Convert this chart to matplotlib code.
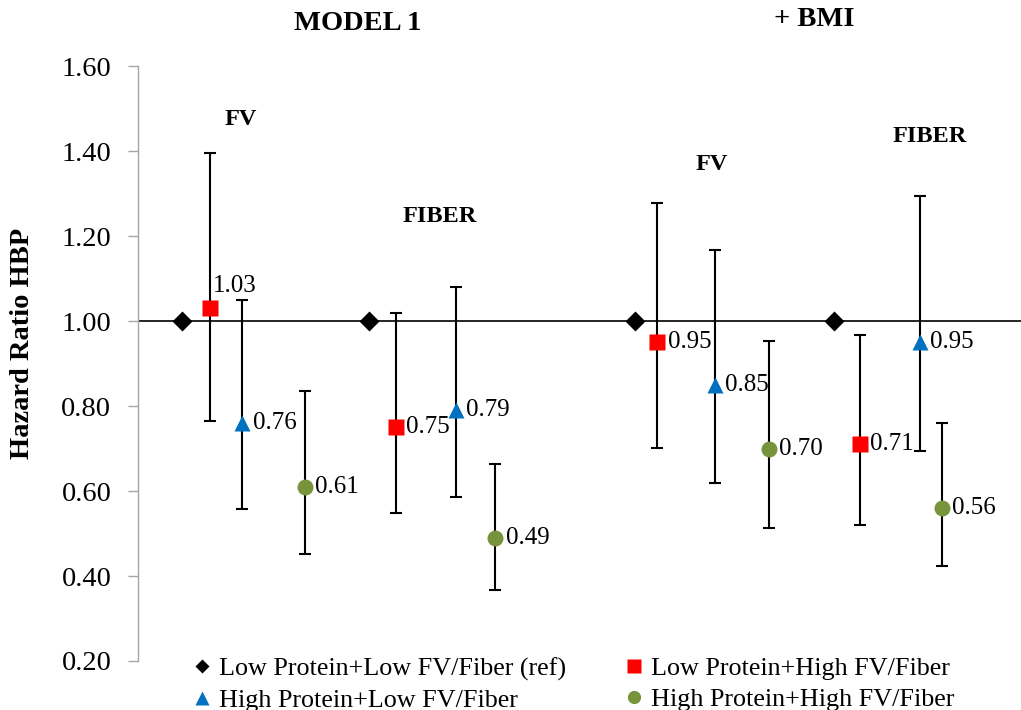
import matplotlib
matplotlib.use("Agg")
import matplotlib.pyplot as plt
from matplotlib.lines import Line2D

plt.rcParams['font.family'] = ['Liberation Serif', 'DejaVu Serif']

# ---- data ----
ref_x = [0.99, 5.24, 11.26, 15.76]
ref_hr = [1.00, 1.00, 1.00, 1.00]

red_x = [1.63, 5.84, 11.76, 16.35]
red_hr = [1.03, 0.75, 0.95, 0.71]
red_lo = [0.764, 0.549, 0.701, 0.520]
red_hi = [1.395, 1.019, 1.278, 0.966]

blue_x = [2.36, 7.20, 13.07, 17.71]
blue_hr = [0.76, 0.79, 0.85, 0.95]
blue_lo = [0.558, 0.585, 0.618, 0.694]
blue_hi = [1.049, 1.081, 1.167, 1.295]

green_x = [3.78, 8.09, 14.29, 18.20]
green_hr = [0.61, 0.49, 0.70, 0.56]
green_lo = [0.452, 0.368, 0.514, 0.423]
green_hi = [0.835, 0.664, 0.954, 0.761]

series_names = ["Low Protein+Low FV/Fiber (ref)", "Low Protein+High FV/Fiber",
                "High Protein+Low FV/Fiber", "High Protein+High FV/Fiber"]
yticks = [0.20, 0.40, 0.60, 0.80, 1.00, 1.20, 1.40, 1.60]

group_labels = ["FV", "FIBER", "FV", "FIBER"]
group_label_x = [2.33, 6.84, 13.0, 17.92]
group_label_y = [1.473, 1.245, 1.368, 1.434]

RED = "#FF0000"
BLUE = "#0070C0"
GREEN = "#77933C"
GRAY = "#A6A6A6"

fig = plt.figure(figsize=(10.21, 7.10), dpi=100)
ax = fig.add_axes([138 / 1021, 49 / 710, 883 / 1021, 595 / 710])
ax.set_xlim(0, 20)
ax.set_ylim(0.2, 1.6)

# axis crossing line at 1.00
ax.axhline(1.0, color="black", lw=1.2, zorder=1)

def err(x, hr, lo, hi):
    yerr = [[h - l for h, l in zip(hr, lo)], [u - h for h, u in zip(hr, hi)]]
    ax.errorbar(x, hr, yerr=yerr, fmt="none", ecolor="black", elinewidth=1.5,
                capsize=4, capthick=1.5, zorder=2)

err(red_x, red_hr, red_lo, red_hi)
err(blue_x, blue_hr, blue_lo, blue_hi)
err(green_x, green_hr, green_lo, green_hi)

ax.plot(ref_x, ref_hr, "D", color="black", ms=10, mec="none", zorder=3)
ax.plot(red_x, red_hr, "s", color=RED, ms=11.5, mec="none", zorder=3)
ax.plot(blue_x, blue_hr, "^", color=BLUE, ms=12, mec="none", zorder=3)
ax.plot(green_x, green_hr, "o", color=GREEN, ms=11.5, mec="none", zorder=3)

lab_fs = 18
for xs, ys in [(red_x, red_hr), (blue_x, blue_hr), (green_x, green_hr)]:
    for x, y in zip(xs, ys):
        if y > 1.0:
            ax.annotate(f"{y:.2f}", (x, y), xytext=(2, 16), textcoords="offset points",
                        ha="left", va="center", fontsize=lab_fs, zorder=4)
        else:
            ax.annotate(f"{y:.2f}", (x, y), xytext=(7.5, 0), textcoords="offset points",
                        ha="left", va="center", fontsize=lab_fs, zorder=4)

for t, x, y in zip(group_labels, group_label_x, group_label_y):
    ax.text(x, y, t, ha="center", va="center", fontsize=17.5, fontweight="bold")

fig.text(358 / 1021, 1 - 24 / 710, "MODEL 1", ha="center", va="center",
         fontsize=20.5, fontweight="bold")
fig.text(814 / 1021, 1 - 19 / 710, "+ BMI", ha="center", va="center",
         fontsize=20.5, fontweight="bold")
fig.text(23 / 1021, 1 - 343 / 710, "Hazard Ratio HBP", ha="center", va="center",
         rotation=90, fontsize=20.5, fontweight="bold")

# axes styling
for s in ["top", "right", "bottom"]:
    ax.spines[s].set_visible(False)
ax.spines["left"].set_color(GRAY)
ax.spines["left"].set_linewidth(1.0)
ax.set_xticks([])
ax.set_yticks(yticks)
ax.set_yticklabels([f"{v:.2f}" for v in yticks])
ax.tick_params(axis="y", direction="out", length=7.2, width=1.0, color=GRAY,
               labelsize=20.5, pad=12, labelcolor="black")
for tk, v in zip(ax.yaxis.get_major_ticks(), yticks):
    if abs(v - 1.0) < 1e-9:
        tk.tick1line.set_color("black")

handles = [
    Line2D([], [], ls="none", marker="D", color="black", ms=7.5, mec="none"),
    Line2D([], [], ls="none", marker="s", color=RED, ms=9.5, mec="none"),
    Line2D([], [], ls="none", marker="^", color=BLUE, ms=9.5, mec="none"),
    Line2D([], [], ls="none", marker="o", color=GREEN, ms=9.5, mec="none"),
]
order = [0, 2, 1, 3]
leg = fig.legend([handles[i] for i in order], [series_names[i] for i in order],
                 ncol=2, loc="upper left", bbox_to_anchor=(192 / 1021, 1 - 657 / 710),
                 bbox_transform=fig.transFigure, frameon=False, fontsize=18.8,
                 handlelength=0.8, handletextpad=0.25, columnspacing=2.2,
                 labelspacing=0.3, borderpad=0, borderaxespad=0)

fig.savefig("out.png", dpi=100)
